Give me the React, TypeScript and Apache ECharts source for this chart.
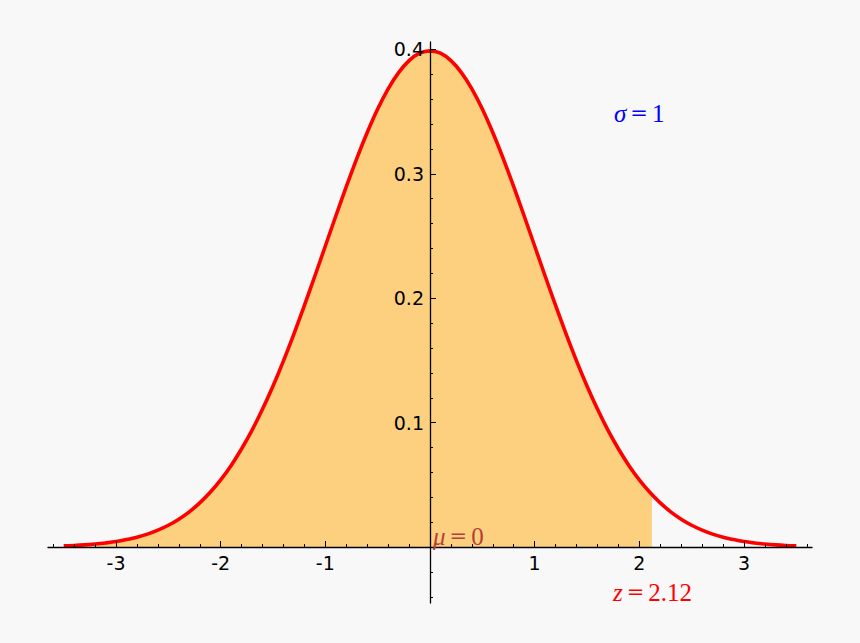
import React, { useEffect, useRef } from 'react';
import * as echarts from 'echarts';

// x positions of the curve samples (-3.5 .. 3.5)
const xValues = [
  -3.5, -3.4, -3.3, -3.2, -3.1, -3.0, -2.9, -2.8, -2.7, -2.6, -2.5, -2.4, -2.3, -2.2, -2.1,
  -2.0, -1.9, -1.8, -1.7, -1.6, -1.5, -1.4, -1.3, -1.2, -1.1, -1.0, -0.9, -0.8, -0.7, -0.6,
  -0.5, -0.4, -0.3, -0.2, -0.1, 0.0, 0.1, 0.2, 0.3, 0.4, 0.5, 0.6, 0.7, 0.8, 0.9, 1.0, 1.1,
  1.2, 1.3, 1.4, 1.5, 1.6, 1.7, 1.8, 1.9, 2.0, 2.1, 2.2, 2.3, 2.4, 2.5, 2.6, 2.7, 2.8, 2.9,
  3.0, 3.1, 3.2, 3.3, 3.4, 3.5,
];
// density
const densityValues = [
  0.0009, 0.0012, 0.0017, 0.0024, 0.0033, 0.0044, 0.006, 0.0079, 0.0104, 0.0136, 0.0175,
  0.0224, 0.0283, 0.0355, 0.044, 0.054, 0.0656, 0.079, 0.094, 0.1109, 0.1295, 0.1497, 0.1714,
  0.1942, 0.2179, 0.242, 0.2661, 0.2897, 0.3123, 0.3332, 0.3521, 0.3683, 0.3814, 0.391, 0.397,
  0.3989, 0.397, 0.391, 0.3814, 0.3683, 0.3521, 0.3332, 0.3123, 0.2897, 0.2661, 0.242, 0.2179,
  0.1942, 0.1714, 0.1497, 0.1295, 0.1109, 0.094, 0.079, 0.0656, 0.054, 0.044, 0.0355, 0.0283,
  0.0224, 0.0175, 0.0136, 0.0104, 0.0079, 0.006, 0.0044, 0.0033, 0.0024, 0.0017, 0.0012, 0.0009,
];
// the shaded region ends at z
const zValue = 2.12;
const zDensity = 0.0422;

const xMajorTicks = [-3, -2, -1, 0, 1, 2, 3];
const xTickLabels = [-3, -2, -1, 1, 2, 3];
const xMinorTicks = [
  -3.6, -3.4, -3.2, -2.8, -2.6, -2.4, -2.2, -1.8, -1.6, -1.4, -1.2, -0.8, -0.6, -0.4, -0.2,
  0.2, 0.4, 0.6, 0.8, 1.2, 1.4, 1.6, 1.8, 2.2, 2.4, 2.6, 2.8, 3.2, 3.4, 3.6,
];
const yMajorTicks = [0.1, 0.2, 0.3, 0.4];
const yTickLabels = [0.1, 0.2, 0.3, 0.4];
const yMinorTicks = [
  -0.04, -0.02, 0.02, 0.04, 0.06, 0.08, 0.12, 0.14, 0.16, 0.18, 0.22, 0.24, 0.26, 0.28, 0.32,
  0.34, 0.36, 0.38,
];

const X_MIN = -3.65;
const X_MAX = 3.65;
const Y_MIN = -0.045;
const Y_MAX = 0.406;

const GRID = { left: 48, right: 48, top: 42, bottom: 40 };
const W = 860;
const H = 643;

export default function App() {
  const ref = useRef<HTMLDivElement>(null);

  useEffect(() => {
    document.body.style.margin = '0';
    document.body.style.background = '#f8f8f8';
    if (!ref.current) return;
    const chart = echarts.init(ref.current, null, { renderer: 'svg' });

    const curveData = xValues.map((x, i) => [x, densityValues[i]]);
    const shadeData = curveData.filter((p) => p[0] <= zValue).concat([[zValue, zDensity]]);

    // place the axes where the other axis is zero (computed from the scales)
    const gw = W - GRID.left - GRID.right;
    const gh = H - GRID.top - GRID.bottom;
    const yAxisOffset = -((0 - X_MIN) / (X_MAX - X_MIN)) * gw;
    const xAxisOffset = -((0 - Y_MIN) / (Y_MAX - Y_MIN)) * gh;

    const axisFont = { fontFamily: 'DejaVu Sans', fontSize: 19, color: '#000' };
    const serif = 'Liberation Serif';

    const baseX = {
      type: 'value' as const,
      min: X_MIN,
      max: X_MAX,
      position: 'bottom' as const,
      offset: xAxisOffset,
      splitLine: { show: false },
      z: 10,
    };
    const baseY = {
      type: 'value' as const,
      min: Y_MIN,
      max: Y_MAX,
      position: 'left' as const,
      offset: yAxisOffset,
      splitLine: { show: false },
      z: 10,
    };

    const annotation = (text: string, x: number, y: number, color: string) => ({
      type: 'text',
      x,
      y,
      z: 20,
      style: {
        text,
        verticalAlign: 'middle',
        rich: {
          i: { fontFamily: serif, fontStyle: 'italic', fontSize: 25, fill: color },
          e: { fontFamily: 'DejaVu Serif', fontSize: 21, fill: color, padding: [0, 4, 0, 4] },
          n: { fontFamily: serif, fontSize: 25, fill: color },
        },
      },
    });

    chart.setOption({
      animation: false,
      backgroundColor: '#f8f8f8',
      grid: { ...GRID, containLabel: false, outerBoundsMode: 'none' },
      xAxis: [
        {
          ...baseX,
          axisLine: { onZero: false, lineStyle: { color: '#000', width: 1.3 } },
          axisTick: { show: true, inside: true, length: 6, customValues: xMajorTicks, lineStyle: { color: '#000', width: 1 } },
          axisLabel: { show: true, customValues: xTickLabels, margin: 6, ...axisFont },
        },
        {
          ...baseX,
          axisLine: { show: false, onZero: false },
          axisTick: { show: true, inside: true, length: 3, customValues: xMinorTicks, lineStyle: { color: '#000', width: 1 } },
          axisLabel: { show: false },
        },
      ],
      yAxis: [
        {
          ...baseY,
          axisLine: { onZero: false, lineStyle: { color: '#000', width: 1.3 } },
          axisTick: { show: true, inside: true, length: 6, customValues: yMajorTicks, lineStyle: { color: '#000', width: 1 } },
          axisLabel: { show: true, customValues: yTickLabels, margin: 6, ...axisFont },
        },
        {
          ...baseY,
          axisLine: { show: false, onZero: false },
          axisTick: { show: true, inside: true, length: 3, customValues: yMinorTicks, lineStyle: { color: '#000', width: 1 } },
          axisLabel: { show: false },
        },
      ],
      series: [
        {
          type: 'line',
          xAxisIndex: 0,
          yAxisIndex: 0,
          data: shadeData,
          showSymbol: false,
          symbol: 'none',
          smooth: 0.3,
          lineStyle: { width: 0, opacity: 0 },
          areaStyle: { color: '#fcd07e', opacity: 1 },
          z: 1,
        },
        {
          type: 'line',
          xAxisIndex: 0,
          yAxisIndex: 0,
          data: curveData,
          showSymbol: false,
          symbol: 'none',
          smooth: 0.3,
          lineStyle: { color: '#ff0000', width: 3.6 },
          z: 2,
        },
      ],
      graphic: [
        annotation('{i|σ}{e|=}{n|1}', 614, 113, '#0000ff'),
        annotation('{i|μ}{e|=}{n|0}', 433, 536, '#b5403a'),
        annotation('{i|z}{e|=}{n|2.12}', 613, 592, '#ff0000'),
      ],
    });

    return () => chart.dispose();
  }, []);

  return <div ref={ref} style={{ width: W, height: H }} />;
}
